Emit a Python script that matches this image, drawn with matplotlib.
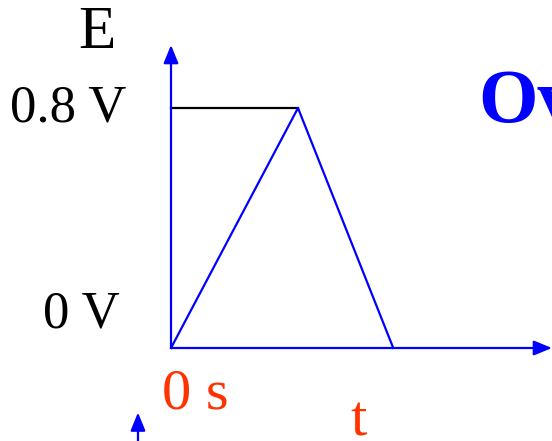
import matplotlib.pyplot as plt

# Triangle pulse (time in arbitrary units, voltage in V)
times = [0.0, 1.0, 1.75]
volts = [0.0, 0.8, 0.0]
peak_v = 0.8
y_labels = ["0 V", "0.8 V"]

fig = plt.figure(figsize=(5.52, 4.41), dpi=100)
ax = fig.add_axes([0, 0, 1, 1])
ax.set_xlim(-1.3465, 3.0)
ax.set_ylim(-0.31, 1.16)
ax.axis('off')

serif = ['Liberation Serif', 'DejaVu Serif']
blue = '#0000FF'
red = '#FF3300'
head = '-|>,head_length=1.1,head_width=0.45'

# axes with arrows
ax.annotate('', xy=(0, 1.01), xytext=(0, 0),
            arrowprops=dict(arrowstyle=head, color=blue, lw=1.6, shrinkA=0, shrinkB=0))
ax.annotate('', xy=(3.0, 0), xytext=(0, 0),
            arrowprops=dict(arrowstyle=head, color=blue, lw=1.6, shrinkA=0, shrinkB=0))

# level line at 0.8 V
ax.plot([0, times[1]], [peak_v, peak_v], color='black', lw=1.6)

# triangle pulse
ax.plot(times, volts, color=blue, lw=1.6)

# labels
ax.text(-0.58, 1.05, "E", fontsize=44, family=serif, ha='center', va='center')
ax.text(-0.35, peak_v, y_labels[1], fontsize=38, family=serif, ha='right', va='center')
ax.text(-0.40, 0.11, y_labels[0], fontsize=38, family=serif, ha='right', va='center')
ax.text(0.19, -0.155, "0 s", fontsize=42, family=serif, color=red, ha='center', va='center')
ax.text(1.48, -0.245, "t", fontsize=42, family=serif, color=red, ha='center', va='center')
ax.text(2.42, 0.815, "Ov", fontsize=55, family=serif, color=blue, fontweight='bold',
        ha='left', va='center')

# small arrow at the bottom
ax.annotate('', xy=(-0.26, -0.215), xytext=(-0.26, -0.32),
            arrowprops=dict(arrowstyle=head, color=blue, lw=1.6, shrinkA=0, shrinkB=0))

fig.savefig('out.png', dpi=100)
